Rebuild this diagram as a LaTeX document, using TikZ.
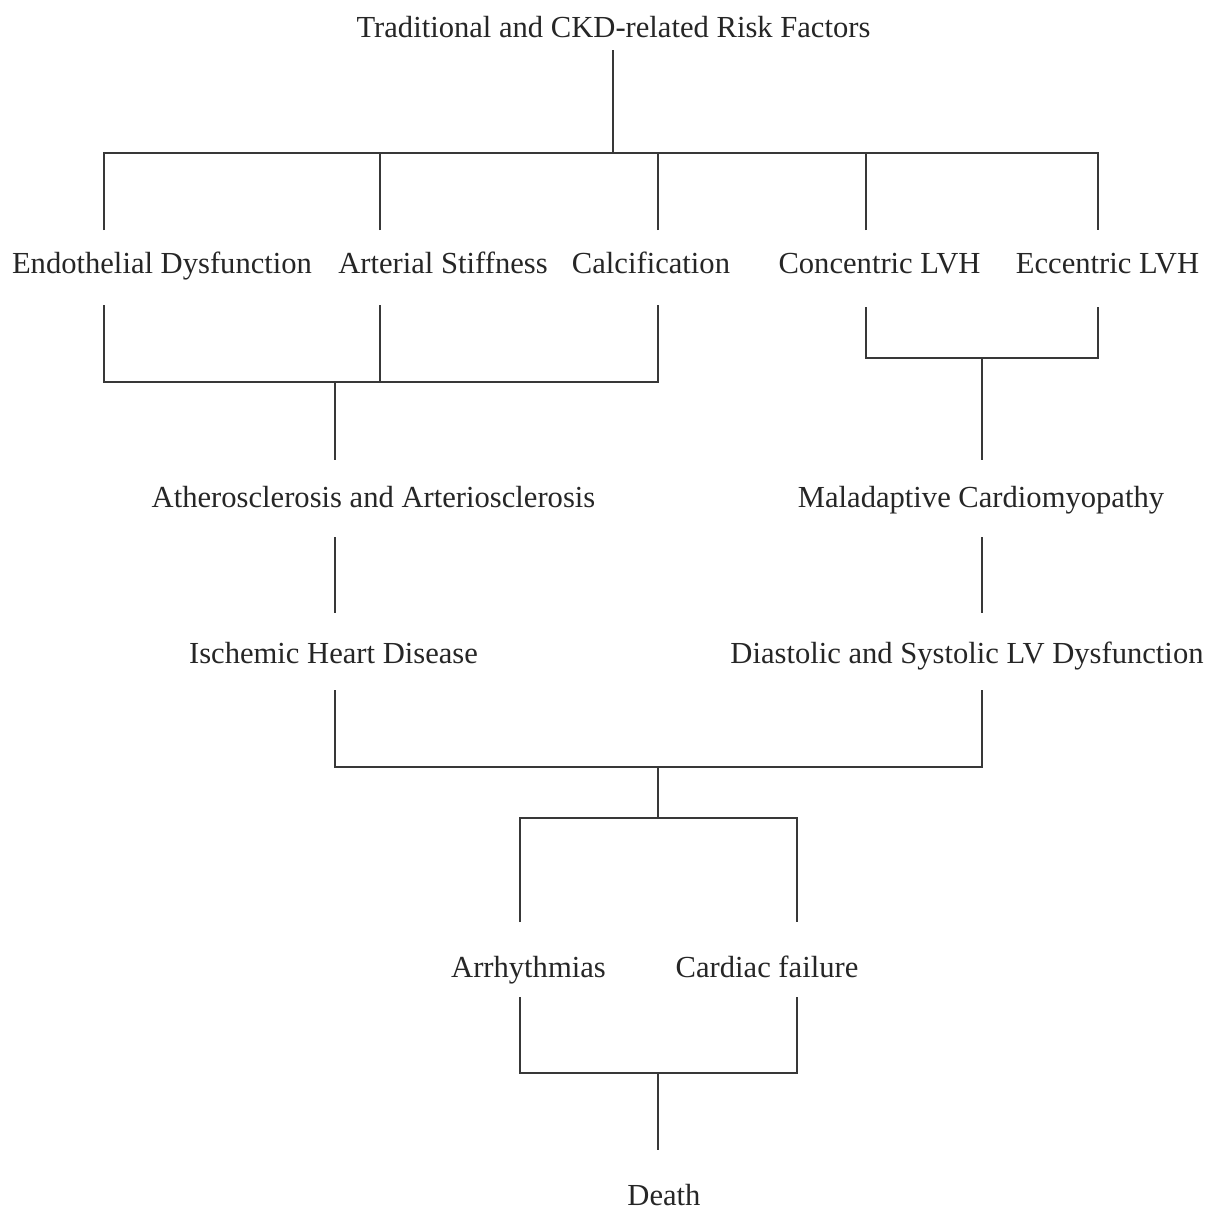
\documentclass[tikz,border=0pt]{standalone}
\usepackage{fontspec}
\setmainfont{Liberation Serif}
\begin{document}
\begin{tikzpicture}[x=1pt,y=-1pt,
  lbl/.style={anchor=base,inner sep=0pt,font=\fontsize{30.6}{36}\selectfont,text=black!85},
  conn/.style={line width=2.4pt,draw=black!78}]
\useasboundingbox[fill=white] (0,0) rectangle (1219,1213);
% labels
\node[lbl] (title) at (613.5,37) {Traditional and CKD-related Risk Factors};
\node[lbl] (endo) at (162,273) {Endothelial Dysfunction};
\node[lbl] (art) at (443,273) {Arterial Stiffness};
\node[lbl] (calc) at (651,273) {Calcification};
\node[lbl] (conc) at (879.5,273) {Concentric LVH};
\node[lbl] (ecc) at (1107.5,273) {Eccentric LVH};
\node[lbl] (ather) at (373.5,507) {Atherosclerosis and Arteriosclerosis};
\node[lbl] (mal) at (981,507) {Maladaptive Cardiomyopathy};
\node[lbl] (isch) at (333.5,663) {Ischemic Heart Disease};
\node[lbl] (dias) at (967,663) {Diastolic and Systolic LV Dysfunction};
\node[lbl] (arr) at (528.5,977) {Arrhythmias};
\node[lbl] (card) at (767,977) {Cardiac failure};
\node[lbl] (death) at (664,1205) {Death};
% connector end points
\coordinate (titleDn) at (613,50);
\coordinate (topBar) at (613,153);
\coordinate (endoUp) at (104,230);
\coordinate (artUp) at (380,230);
\coordinate (calcUp) at (658,230);
\coordinate (concUp) at (866,230);
\coordinate (eccUp) at (1098,230);
\coordinate (endoDn) at (104,305);
\coordinate (artDn) at (380,305);
\coordinate (calcDn) at (658,305);
\coordinate (concDn) at (866,307);
\coordinate (eccDn) at (1098,307);
\coordinate (leftBar) at (335,382);
\coordinate (rightBar) at (982,358);
\coordinate (atherUp) at (335,460);
\coordinate (malUp) at (982,460);
\coordinate (atherDn) at (335,537);
\coordinate (malDn) at (982,537);
\coordinate (ischUp) at (335,613);
\coordinate (diasUp) at (982,613);
\coordinate (ischDn) at (335,690);
\coordinate (diasDn) at (982,690);
\coordinate (midBar) at (658,767);
\coordinate (splitBar) at (658,818);
\coordinate (arrUp) at (520,922);
\coordinate (cardUp) at (797,922);
\coordinate (arrDn) at (520,997);
\coordinate (cardDn) at (797,997);
\coordinate (lowBar) at (658,1073);
\coordinate (deathUp) at (658,1150);
% connectors
\draw[conn] (titleDn) -- (topBar);
\draw[conn] (endoUp) |- (topBar) -| (eccUp);
\draw[conn] (artUp) -- (artUp |- topBar);
\draw[conn] (calcUp) -- (calcUp |- topBar);
\draw[conn] (concUp) -- (concUp |- topBar);
\draw[conn] (endoDn) |- (leftBar) -| (calcDn);
\draw[conn] (artDn) -- (artDn |- leftBar);
\draw[conn] (leftBar) -- (atherUp);
\draw[conn] (concDn) |- (rightBar) -| (eccDn);
\draw[conn] (rightBar) -- (malUp);
\draw[conn] (atherDn) -- (ischUp);
\draw[conn] (malDn) -- (diasUp);
\draw[conn] (ischDn) |- (midBar) -| (diasDn);
\draw[conn] (midBar) -- (splitBar);
\draw[conn] (arrUp) |- (splitBar) -| (cardUp);
\draw[conn] (arrDn) |- (lowBar) -| (cardDn);
\draw[conn] (lowBar) -- (deathUp);
\end{tikzpicture}
\end{document}
